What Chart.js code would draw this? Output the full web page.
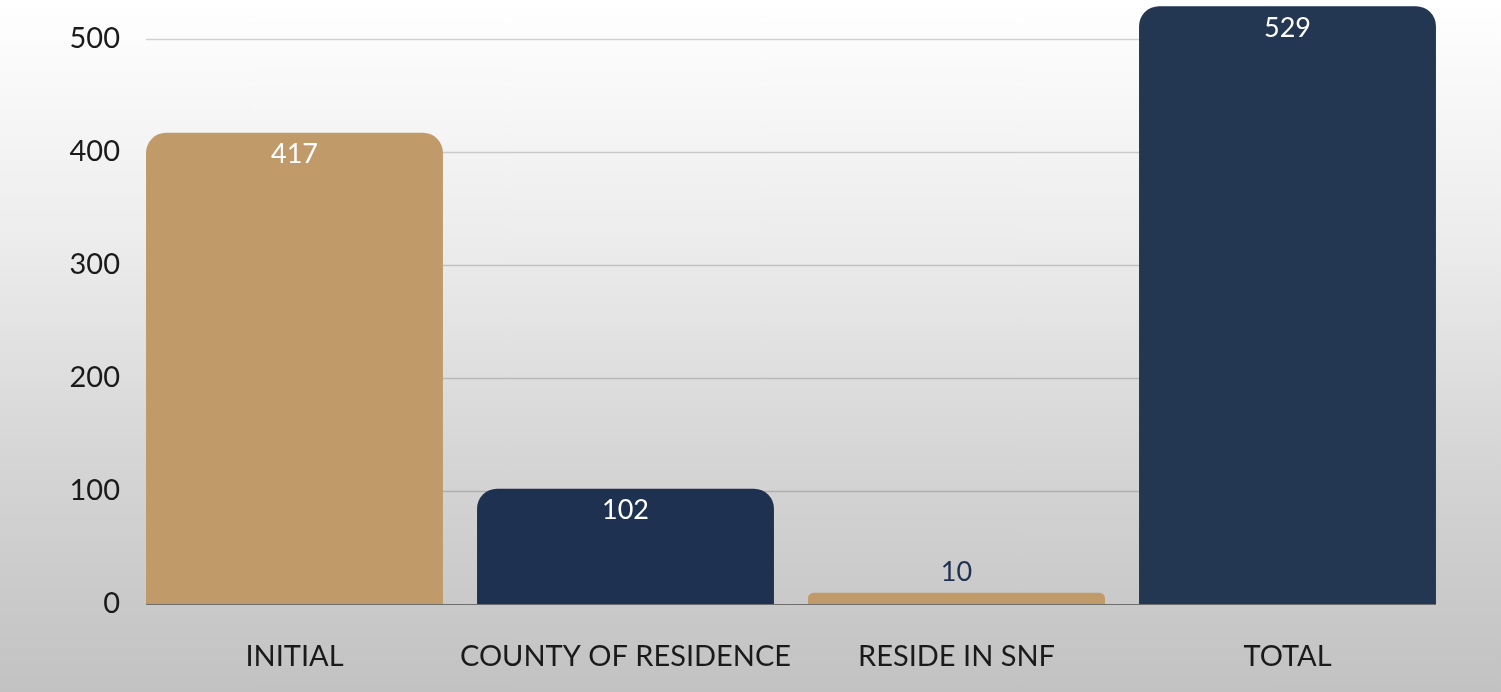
<!DOCTYPE html>
<html>
<head>
<meta charset="utf-8">
<script src="https://cdn.jsdelivr.net/npm/chart.js@4.4.0/dist/chart.umd.min.js"></script>
<style>
    html, body { margin: 0; padding: 0; }
    body {
        width: 1501px; height: 692px; overflow: hidden;
        background: linear-gradient(to bottom, #ffffff 0%, #ececec 35%, #d6d6d6 65%, #c2c2c2 100%);
    }
    #wrap { position: relative; width: 1501px; height: 692px; }
</style>
</head>
<body>
<div id="wrap"><canvas id="screeningChart"></canvas></div>
<script>
const categories = ['INITIAL', 'COUNTY OF RESIDENCE', 'RESIDE IN SNF', 'TOTAL'];
const counts = [417, 102, 10, 529];
const barColors = ['#c09a68', '#1f3150', '#c09a68', '#233652'];
const yTicks = [0, 100, 200, 300, 400, 500];

const FONT = 'Lato, "Open Sans", sans-serif';

// horizontal grid lines only span from the first bar's left edge to the last bar's right edge
const spanGrid = {
    id: 'spanGrid',
    beforeDatasetsDraw(chart) {
        const ctx = chart.ctx;
        const bars = chart.getDatasetMeta(0).data;
        if (!bars.length) return;
        const first = bars[0], last = bars[bars.length - 1];
        const x0 = first.x - first.width / 2;
        const x1 = last.x + last.width / 2;
        const y = chart.scales.y;
        ctx.save();
        yTicks.forEach(v => {
            const py = Math.round(y.getPixelForValue(v)) + 0.5;
            ctx.beginPath();
            ctx.strokeStyle = v === 0 ? 'rgba(0,0,0,0.45)' : 'rgba(0,0,0,0.17)';
            ctx.lineWidth = v === 0 ? 1 : 1.5;
            ctx.moveTo(x0, py);
            ctx.lineTo(x1, py);
            ctx.stroke();
        });
        ctx.restore();
    }
};

// draws the value on top of each bar (inside if there's room, above otherwise)
const valueLabels = {
    id: 'valueLabels',
    afterDatasetsDraw(chart) {
        const ctx = chart.ctx;
        const meta = chart.getDatasetMeta(0);
        ctx.save();
        ctx.font = '27px ' + FONT;
        ctx.textAlign = 'center';
        ctx.textBaseline = 'middle';
        meta.data.forEach((bar, i) => {
            const h = bar.base - bar.y;
            if (h > 45) {
                ctx.fillStyle = '#ffffff';
                ctx.fillText(String(counts[i]), bar.x, bar.y + 22);
            } else {
                ctx.fillStyle = '#1f3150';
                ctx.fillText(String(counts[i]), bar.x, bar.y - 20);
            }
        });
        ctx.restore();
    }
};

const ctx = document.getElementById('screeningChart').getContext('2d');
new Chart(ctx, {
    type: 'bar',
    data: {
        labels: categories,
        datasets: [{
            data: counts,
            backgroundColor: barColors,
            borderRadius: 20,
            borderSkipped: 'start',
            barPercentage: 0.897,
            categoryPercentage: 1,
            clip: false
        }]
    },
    options: {
        responsive: true,
        maintainAspectRatio: false,
        animation: false,
        layout: { padding: { top: 39, right: 48, left: 0, bottom: 0 } },
        scales: {
            x: {
                grid: { display: false, drawTicks: false },
                border: { display: false },
                ticks: { color: '#1a1a1a', font: { family: FONT, size: 29 }, padding: 35, maxRotation: 0, autoSkip: false },
                afterFit: s => { s.height = 88; }
            },
            y: {
                min: 0, max: 500,
                afterBuildTicks: s => { s.ticks = yTicks.map(v => ({ value: v })); },
                grid: { display: false, drawTicks: false },
                border: { display: false },
                ticks: { color: '#1a1a1a', font: { family: FONT, size: 29 }, padding: 9 },
                afterFit: s => { s.width = 129; }
            }
        },
        plugins: {
            legend: { display: false },
            tooltip: { enabled: false }
        }
    },
    plugins: [spanGrid, valueLabels]
});
</script>
</body>
</html>
